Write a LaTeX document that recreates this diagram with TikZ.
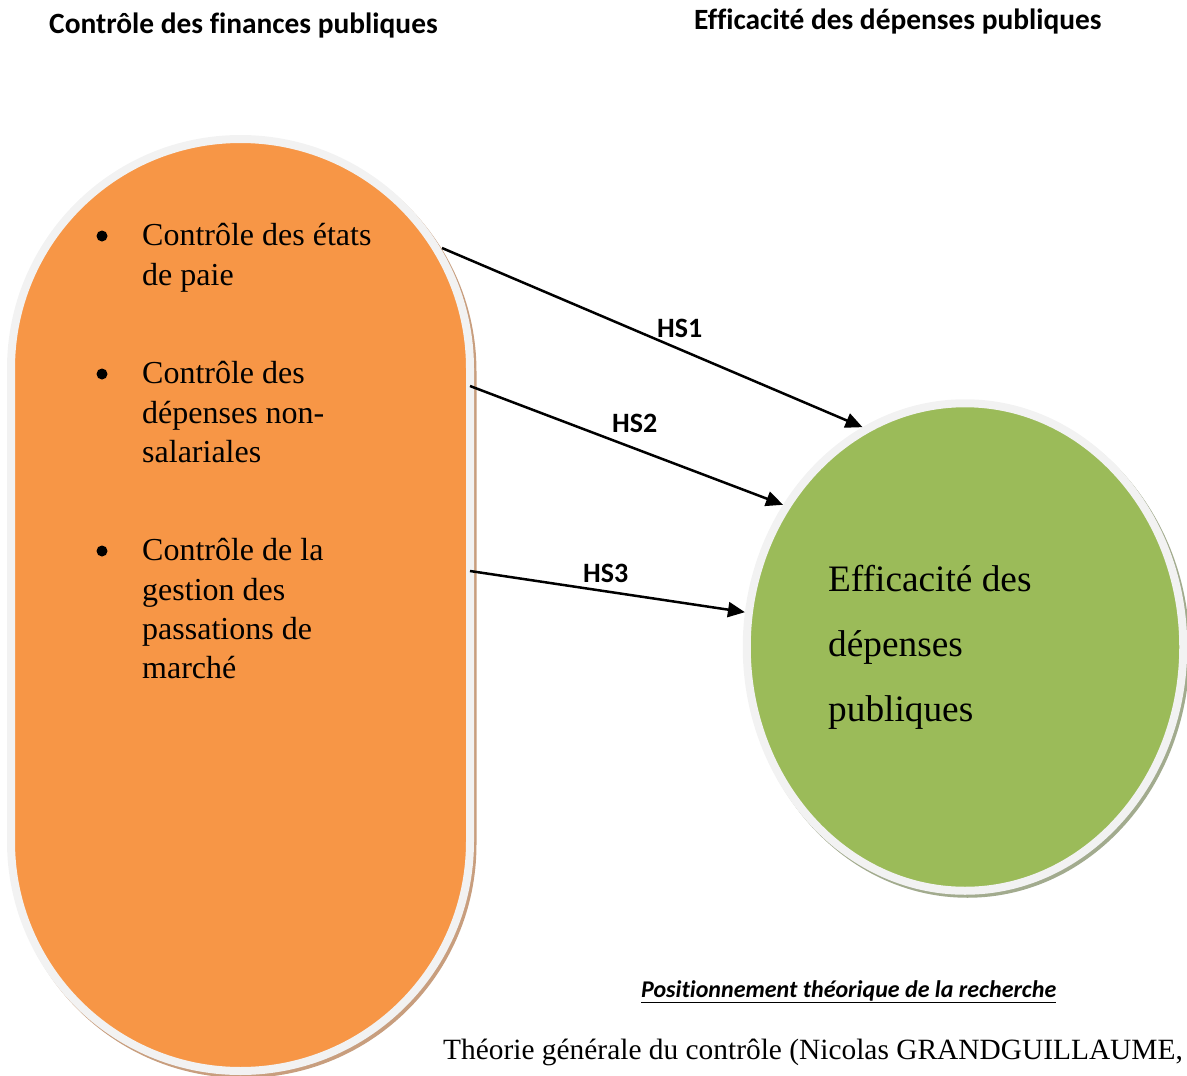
\documentclass[tikz,border=0pt]{standalone}
\usepackage{fontspec}
\setmainfont{Liberation Serif}
\newfontfamily\calibri[Ligatures=NoCommon]{Carlito}
\usetikzlibrary{arrows.meta,shapes.geometric}
\definecolor{orangeF}{HTML}{F79646}
\definecolor{greenF}{HTML}{9BBB59}
\definecolor{ringG}{HTML}{F2F2F2}
\definecolor{shadowO}{HTML}{C89E7E}
\definecolor{shadowG}{HTML}{A2AB8E}
\tikzset{
  pill/.style={rectangle, rounded corners=229.5pt, minimum width=459pt, minimum height=932pt, inner sep=0pt, line width=8pt},
  oval/.style={ellipse, minimum width=436.5pt, minimum height=487.5pt, inner sep=0pt, line width=8pt},
  itemtxt/.style={anchor=base west, inner sep=0pt, font=\fontsize{32}{40}\selectfont},
  bulletdot/.style={circle, fill=black, inner sep=0pt, minimum size=11pt},
  efftxt/.style={anchor=base west, inner sep=0pt, font=\fontsize{37.3}{45}\selectfont},
  header/.style={anchor=base west, inner sep=0pt, font=\calibri\bfseries\fontsize{29.4}{34}\selectfont},
  hslabel/.style={anchor=base west, inner sep=0pt, font=\calibri\bfseries\fontsize{28}{32}\selectfont},
  link/.style={line width=2.5pt, -{Triangle[length=17pt,width=15pt]}}
}
\begin{document}
\begin{tikzpicture}[x=1pt,y=-1pt]
\useasboundingbox (0,0) rectangle (1187,1076);
% headers
\node[header] (h1) at (49,33) {Contrôle des finances publiques};
\node[header] (h2) at (694,29) {Efficacité des dépenses publiques};
% orange pill
\node[pill, fill=shadowO, draw=shadowO] (ctrlsh) at (243,608) {};
\node[pill, fill=orangeF, draw=ringG] (ctrl) at (240.5,605) {};
% green ellipse
\node[oval, fill=shadowG, draw=shadowG] (effsh) at (967.5,650) {};
\node[oval, fill=greenF, draw=ringG] (eff) at (965,647) {};
% bullets and items
\node[bulletdot] (b1) at (102,236) {};
\node[itemtxt] (t11) at (142,245) {Contrôle des états};
\node[itemtxt] (t12) at (142,285) {de paie};
\node[bulletdot] (b2) at (102,374) {};
\node[itemtxt] (t21) at (142,383) {Contrôle des};
\node[itemtxt] (t22) at (142,423) {dépenses non-};
\node[itemtxt] (t23) at (142,462) {salariales};
\node[bulletdot] (b3) at (102,551) {};
\node[itemtxt] (t31) at (142,560) {Contrôle de la};
\node[itemtxt] (t32) at (142,600) {gestion des};
\node[itemtxt] (t33) at (142,639) {passations de};
\node[itemtxt] (t34) at (142,678) {marché};
% green text
\node[efftxt] (e1) at (828,591) {Efficacité des};
\node[efftxt] (e2) at (828,656) {dépenses};
\node[efftxt] (e3) at (828,721) {publiques};
% connectors
\coordinate (s1) at (442,248);
\coordinate (s2) at (470,386);
\coordinate (s3) at (470,571);
\draw[link] (s1) -- (eff.115);
\draw[link] (s2) -- (eff.142);
\draw[link] (s3) -- (eff.171);
\node[hslabel] (l1) at (657,337) {HS1};
\node[hslabel] (l2) at (612,432) {HS2};
\node[hslabel] (l3) at (583,582) {HS3};
% bottom texts
\node[anchor=base west, inner sep=0pt, font=\calibri\bfseries\itshape\fontsize{24}{28}\selectfont] (pos) at (641,997) {\underline{Positionnement théorique de la recherche}};
\node[anchor=base west, inner sep=0pt, font=\fontsize{29.4}{34}\selectfont] (theo) at (443,1059) {Théorie générale du contrôle (Nicolas GRANDGUILLAUME,};
\end{tikzpicture}
\end{document}
